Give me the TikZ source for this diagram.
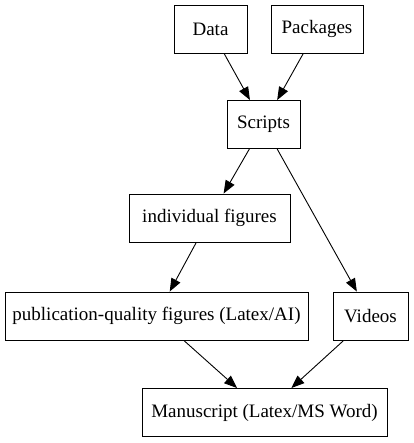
\documentclass[tikz,border=0pt]{standalone}
\usepackage{fontspec}
\setmainfont{Liberation Serif}
\usetikzlibrary{arrows.meta}
\begin{document}
\begin{tikzpicture}[x=1pt,y=-1pt,>={Triangle[length=13pt,width=10pt]},font=\fontsize{19}{21}\selectfont,
	box/.style={draw,line width=0.9pt,rectangle,minimum height=48pt,inner sep=0pt}]
				\useasboundingbox (0,0) rectangle (413,443);
				\node[box,minimum width=73pt] (data) at (210.5,29) {Data};
				\node[box,minimum width=92pt] (pkg) at (317,29) {Packages};
				\node[box,minimum width=73pt] (scripts) at (263.5,124.5) {Scripts};
				\node[box,minimum width=161pt] (indiv) at (209.5,218) {individual figures};
				\node[box,minimum width=303pt] (pub) at (156.5,316) {publication-quality figures (Latex/AI)};
				\node[box,minimum width=75pt] (videos) at (370.5,316) {Videos};
				\node[box,minimum width=245pt] (ms) at (264.5,412.5) {Manuscript (Latex/MS Word)};
				\draw[->,line width=0.9pt] (data)--(scripts);
				\draw[->,line width=0.9pt] (pkg)--(scripts);
				\draw[->,line width=0.9pt] (scripts)--(indiv);
				\draw[->,line width=0.9pt] (scripts)--(videos);
				\draw[->,line width=0.9pt] (indiv)--(pub);
				\draw[->,line width=0.9pt] (pub)--(ms);
				\draw[->,line width=0.9pt] (videos)--(ms);
			\end{tikzpicture}
\end{document}
